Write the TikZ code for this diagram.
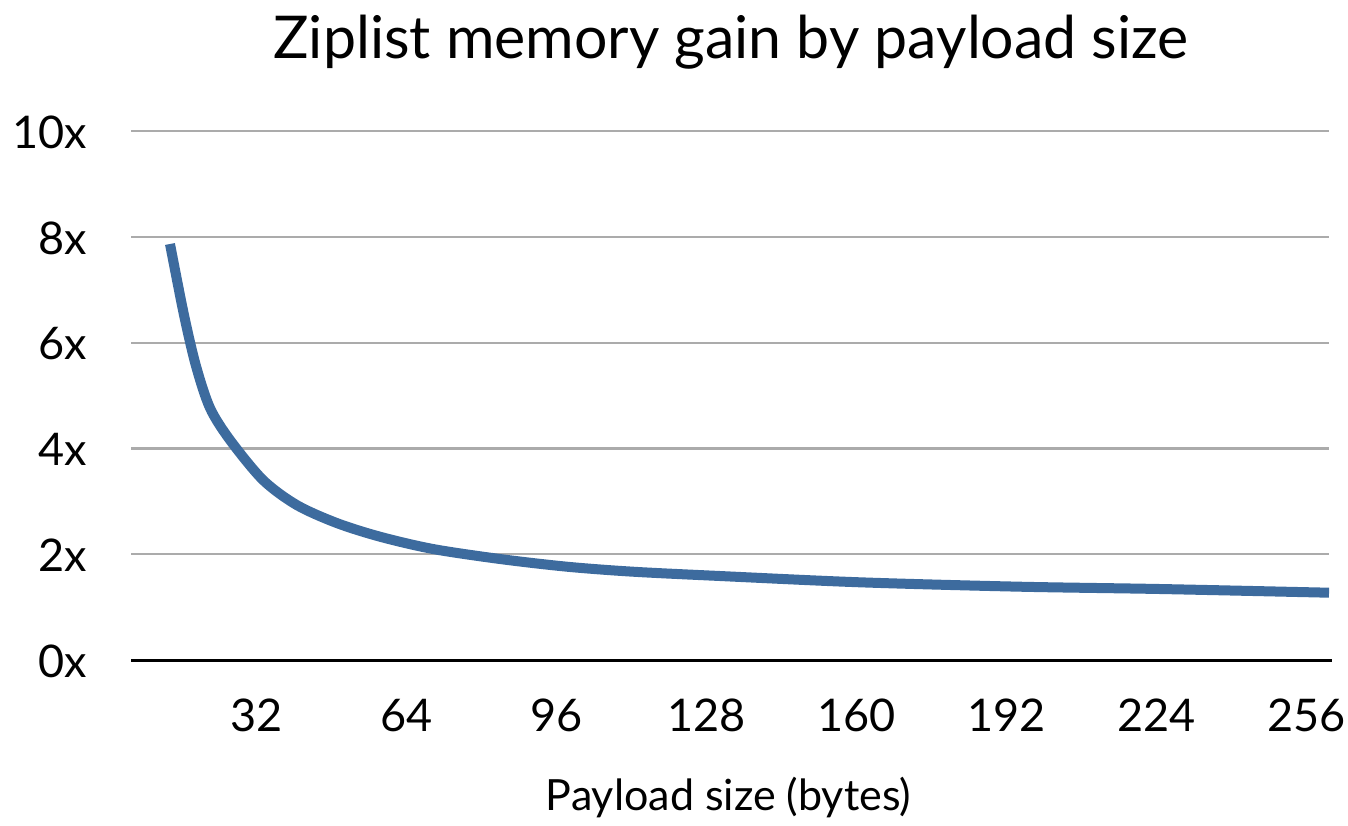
\documentclass[tikz,border=0pt]{standalone}
\usepackage{fontspec}
\setmainfont{Lato}
\definecolor{seriesblue}{HTML}{3D6B9E}
\definecolor{gridgray}{HTML}{ABABAB}
\tikzset{
  gridline/.style={draw=gridgray, line width=2.2pt},
  baseaxis/.style={draw=black, line width=3pt},
  series/.style={draw=seriesblue, line width=10pt, line join=round},
  ticklabel/.style={inner sep=0pt, anchor=base, font=\fontsize{45}{50}\selectfont},
  ylabel/.style={inner sep=0pt, anchor=base east, font=\fontsize{45}{50}\selectfont},
  charttitle/.style={inner sep=0pt, anchor=base, font=\fontsize{59}{64}\selectfont},
  axistitle/.style={inner sep=0pt, anchor=base, font=\fontsize{43}{48}\selectfont}
}
\begin{document}
\begin{tikzpicture}[x=1pt, y=-1pt]
  \useasboundingbox (0,0) rectangle (1348,825);

  % title
  \node[charttitle] (title) at (731,58) {Ziplist memory gain by payload size};

  % horizontal gridlines and value labels
  \foreach \v/\lab in {1/2x, 2/4x, 3/6x, 4/8x, 5/10x} {
    \coordinate (gl\v) at (131, 660-\v*105.75);
    \coordinate (gr\v) at (1329, 660-\v*105.75);
    \draw[gridline] (gl\v) -- (gr\v);
    \node[ylabel] (ylab\v) at (87, 660-\v*105.75+17) {\lab};
  }
  \node[ylabel] (ylab0) at (87, 677) {0x};

  % category axis
  \coordinate (axl) at (131,660);
  \coordinate (axr) at (1332,660);
  \draw[baseaxis] (axl) -- (axr);

  % category labels
  \foreach \k/\lab in {0/32, 1/64, 2/96, 3/128, 4/160, 5/192, 6/224, 7/256} {
    \node[ticklabel] (xlab\lab) at (256.7+\k*150, 731) {\lab};
  }

  % axis title
  \node[axistitle] (xtitle) at (728.5,810) {Payload size (bytes)};

  % gain curve
  \draw[series] plot[smooth, tension=0.5] coordinates {
    (170,244) (184,315) (196,366) (210,408) (230,440)
    (263,480) (296.7,505) (336.7,523) (380,536.7) (433,549) (500,559)
    (567,566.7) (633,571.7) (720,576) (860,582.3) (1020,586.7)
    (1160,589) (1329,592.7)
  };
\end{tikzpicture}
\end{document}
